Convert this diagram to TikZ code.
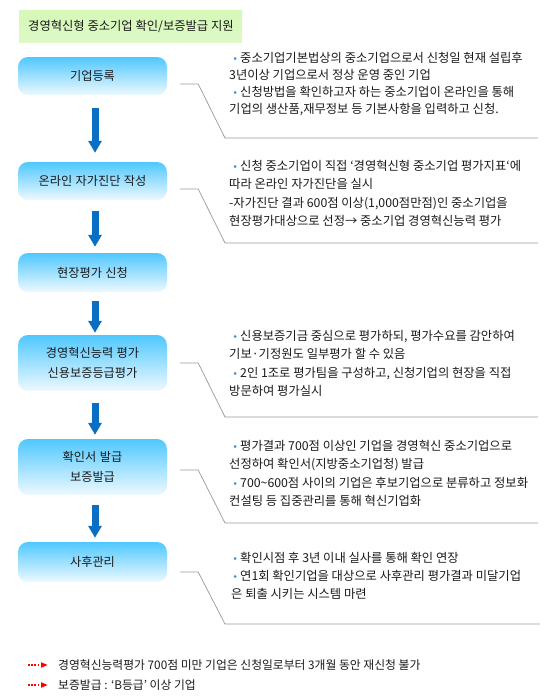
\documentclass[tikz,border=0pt]{standalone}
\usepackage{fontspec}
\setmainfont{Noto Sans CJK KR}
\newfontfamily\boxfont[WordSpace=1.25]{Noto Sans CJK KR}
\usetikzlibrary{calc,arrows.meta,backgrounds}
\definecolor{arrowc}{HTML}{0A6FC2}
\definecolor{shadowc}{HTML}{2FC6FB}
\definecolor{boxtop}{HTML}{4FC8FF}
\definecolor{boxbot}{HTML}{EEF9FF}
\definecolor{linec}{HTML}{999999}
\definecolor{bulc}{HTML}{3A8FD8}
\definecolor{txtc}{HTML}{1A1A1A}
\definecolor{gtop}{HTML}{D6F8B8}
\definecolor{gmid}{HTML}{8EE63E}
\definecolor{gbot}{HTML}{DDF9C6}
\newcommand\bul{\hspace*{4pt}\makebox[4pt]{\color{bulc}\raisebox{1.6pt}{$\scriptscriptstyle\bullet$}}\hspace*{3pt}}
\newcommand\tl[4]{\node[txtline] (#1) at (#2,#3) {#4};}
\begin{document}
\begin{tikzpicture}[x=1pt,y=-1pt,
  font=\fontsize{11.5}{19}\selectfont,
  flowbox/.style={rectangle, rounded corners=10pt, top color=boxtop, bottom color=boxbot,
    minimum width=149pt, inner sep=0pt, align=center, text=txtc,
    font=\boxfont\fontsize{12.2}{19.5}\selectfont},
  shadowbox/.style={fill=shadowc, rounded corners=10pt},
  flowarrow/.style={line width=7pt, draw=arrowc, -{Triangle[width=13pt,length=12pt]}},
  bracket/.style={draw=linec, line width=0.7pt},
  txtline/.style={anchor=base west, inner sep=0pt, text=txtc, font=\fontsize{12.3}{18}\selectfont},
  notearrow/.style={draw=red, line width=2pt, dash pattern=on 1.8pt off 1.4pt, -{Triangle[width=5pt,length=7pt,fill=red]}}
]
\useasboundingbox (0,0) rectangle (550,699);
\fill[white] (0,0) rectangle (550,699);

% title
\shade[top color=gtop, middle color=gmid, bottom color=gbot] (19,10) rectangle (242,42);
\node[anchor=west, inner sep=0pt, text=txtc, font=\fontsize{12.3}{18}\selectfont] (title) at (28,26) {경영혁신형 중소기업 확인/보증발급 지원};

% flow boxes
\node[flowbox, minimum height=38pt] (b1) at (92.5,76) {기업등록};
\node[flowbox, minimum height=38pt] (b2) at (92.5,181) {온라인 자가진단 작성};
\node[flowbox, minimum height=39pt] (b3) at (92.5,272.5) {현장평가 신청};
\node[flowbox, minimum height=56pt] (b4) at (92.5,363) {경영혁신능력 평가\\신용보증등급평가};
\node[flowbox, minimum height=56pt] (b5) at (92.5,467) {확인서 발급\\보증발급};
\node[flowbox, minimum height=40pt] (b6) at (92.5,562) {사후관리};

\begin{scope}[on background layer]
\foreach \b in {b1,b2,b3,b4,b5,b6}
  \fill[shadowbox] ($(\b.north west)+(10,8)$) rectangle ($(\b.south east)+(5,6)$);
\end{scope}

% arrows
\draw[flowarrow] ($(b1.south)+(2.5,13)$) -- ($(b2.north)+(2.5,-9)$);
\draw[flowarrow] ($(b2.south)+(2.5,11)$) -- ($(b3.north)+(2.5,-6)$);
\draw[flowarrow] ($(b3.south)+(2.5,9)$) -- ($(b4.north)+(2.5,-2)$);
\draw[flowarrow] ($(b4.south)+(2.5,12)$) -- ($(b5.north)+(2.5,-4)$);
\draw[flowarrow] ($(b5.south)+(2.5,10)$) -- ($(b6.north)+(2.5,-4)$);

% brackets
\coordinate (k1) at (225,138); \coordinate (e1) at (538,138);
\coordinate (k2) at (225,243); \coordinate (e2) at (538,243);
\coordinate (k4) at (225,417); \coordinate (e4) at (538,417);
\coordinate (k5) at (225,523); \coordinate (e5) at (538,523);
\coordinate (k6) at (225,624); \coordinate (e6) at (540,624);
\draw[bracket] ($(b1.east)+(13,8)$) -- ++(18,0) -- (k1) -- (e1);
\draw[bracket] ($(b2.east)+(13,8)$) -- ++(18,0) -- (k2) -- (e2);
\draw[bracket] ($(b4.east)+(13,0)$) -- ++(18,0) -- (k4) -- (e4);
\draw[bracket] ($(b5.east)+(13,3)$) -- ++(18,0) -- (k5) -- (e5);
\draw[bracket] ($(b6.east)+(13,10)$) -- ++(18,0) -- (k6) -- (e6);

% text block 1
\tl{t1a}{229}{62}{\bul 중소기업기본법상의 중소기업으로서 신청일 현재 설립후}
\tl{t1b}{229}{79}{3년이상 기업으로서 정상 운영 중인 기업}
\tl{t1c}{229}{96}{\bul 신청방법을 확인하고자 하는 중소기업이 온라인을 통해}
\tl{t1d}{229}{113}{기업의 생산품,재무정보 등 기본사항을 입력하고 신청.}
% text block 2
\tl{t2a}{229}{170}{\bul 신청 중소기업이 직접 `경영혁신형 중소기업 평가지표`에}
\tl{t2b}{229}{188}{따라 온라인 자가진단을 실시}
\tl{t2c}{229}{207}{-자가진단 결과 600점 이상(1,000점만점)인 중소기업을}
\tl{t2d}{229}{225}{현장평가대상으로 선정→ 중소기업 경영혁신능력 평가}
% text block 4
\tl{t4a}{229}{340}{\bul 신용보증기금 중심으로 평가하되, 평가수요를 감안하여}
\tl{t4b}{229}{358}{기보·기정원도 일부평가 할 수 있음}
\tl{t4c}{229}{377}{\bul 2인 1조로 평가팀을 구성하고, 신청기업의 현장을 직접}
\tl{t4d}{229}{395}{방문하여 평가실시}
% text block 5
\tl{t5a}{229}{450}{\bul 평가결과 700점 이상인 기업을 경영혁신 중소기업으로}
\tl{t5b}{229}{468}{선정하여 확인서(지방중소기업청) 발급}
\tl{t5c}{229}{487}{\bul 700\textasciitilde 600점 사이의 기업은 후보기업으로 분류하고 정보화}
\tl{t5d}{229}{505}{컨설팅 등 집중관리를 통해 혁신기업화}
% text block 6
\tl{t6a}{229}{562}{\bul 확인시점 후 3년 이내 실사를 통해 확인 연장}
\tl{t6b}{229}{580}{\bul 연1회 확인기업을 대상으로 사후관리 평가결과 미달기업}
\tl{t6c}{231}{598}{은 퇴출 시키는 시스템 마련}

% notes
\coordinate (n1a) at (28,665); \coordinate (n1b) at (48,665);
\coordinate (n2a) at (28,685); \coordinate (n2b) at (48,685);
\draw[notearrow] (n1a) -- (n1b);
\draw[notearrow] (n2a) -- (n2b);
\node[txtline, font=\fontsize{11.8}{18}\selectfont] (m1) at (58,669.5) {경영혁신능력평가 700점 미만 기업은 신청일로부터 3개월 동안 재신청 불가};
\node[txtline, font=\fontsize{11.8}{18}\selectfont] (m2) at (58,689.5) {보증발급 : `B등급' 이상 기업};
\end{tikzpicture}
\end{document}
